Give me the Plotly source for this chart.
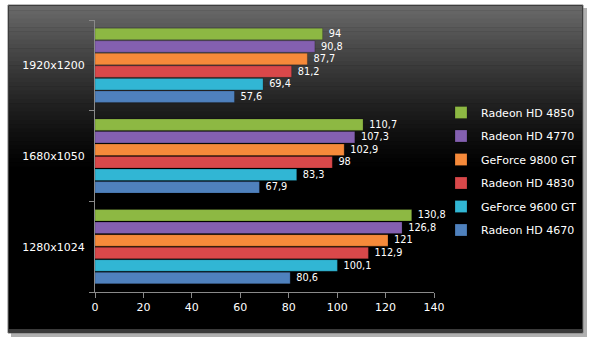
import plotly.graph_objects as go

categories = ["1280x1024", "1680x1050", "1920x1200"]
series_names = ["Radeon HD 4670", "GeForce 9600 GT", "Radeon HD 4830",
                "GeForce 9800 GT", "Radeon HD 4770", "Radeon HD 4850"]
values = {
    "Radeon HD 4670": [80.6, 67.9, 57.6],
    "GeForce 9600 GT": [100.1, 83.3, 69.4],
    "Radeon HD 4830": [112.9, 98, 81.2],
    "GeForce 9800 GT": [121, 102.9, 87.7],
    "Radeon HD 4770": [126.8, 107.3, 90.8],
    "Radeon HD 4850": [130.8, 110.7, 94],
}
colors = {
    "Radeon HD 4670": "#4F81BD",
    "GeForce 9600 GT": "#31B6D4",
    "Radeon HD 4830": "#D9484A",
    "GeForce 9800 GT": "#F68A3A",
    "Radeon HD 4770": "#8460B0",
    "Radeon HD 4850": "#8DB843",
}
x_ticks = [0, 20, 40, 60, 80, 100, 120, 140]

W, H = 593, 343
L, R, T, B = 95, 159, 20, 51
pw, ph = W - L - R, H - T - B

def px(x):
    return (x - L) / pw

def py(y):
    return 1 - (y - T) / ph

def fmt(v):
    return " " + ("%g" % v).replace(".", ",")

fig = go.Figure()
n_series = len(series_names)
for i, name in enumerate(series_names):
    fig.add_trace(go.Bar(
        y=categories, x=values[name], orientation="h", name=name,
        legendgroup=name, legendrank=n_series - i,
        marker=dict(color=colors[name], line=dict(color="rgba(0,0,0,0.35)", width=0.6)),
        text=[fmt(v) for v in values[name]], textposition="outside",
        textfont=dict(color="white", size=11, family="DejaVu Sans"),
        cliponaxis=False,
    ))

shapes = []
# shadow
shapes.append(dict(type="rect", xref="paper", yref="paper", layer="below",
                   x0=px(11), x1=px(587), y0=py(8), y1=py(337),
                   fillcolor="#b0b0b0", line=dict(width=0)))
# panel base
shapes.append(dict(type="rect", xref="paper", yref="paper", layer="below",
                   x0=px(8), x1=px(583), y0=py(5), y1=py(333),
                   fillcolor="#000000", line=dict(color="#7a7a7a", width=1)))
# gradient strips
top, bot = 6, 175
n = 40
for i in range(n):
    y0 = top + (bot - top) * i / n
    y1 = top + (bot - top) * (i + 1) / n
    t = i / (n - 1)
    c = int(105 * (1 - t) ** 1.3)
    shapes.append(dict(type="rect", xref="paper", yref="paper", layer="below",
                       x0=px(9), x1=px(582), y0=py(y0), y1=py(y1 + 0.5),
                       fillcolor="rgb(%d,%d,%d)" % (c, c, c), line=dict(width=0)))
# bottom bevel
shapes.append(dict(type="rect", xref="paper", yref="paper", layer="below",
                   x0=px(9), x1=px(582), y0=py(329), y1=py(333),
                   fillcolor="#3a3a3a", line=dict(width=0)))

fig.update_layout(
    width=W, height=H,
    margin=dict(l=L, r=R, t=T, b=B, autoexpand=False),
    paper_bgcolor="white", plot_bgcolor="rgba(0,0,0,0)",
    barmode="group", bargap=0.17, bargroupgap=0.08,
    shapes=shapes,
    font=dict(family="DejaVu Sans", size=11, color="white"),
    showlegend=True,
    legend=dict(x=px(441), y=py(98), xanchor="left", yanchor="top",
                traceorder="grouped", tracegroupgap=4.5,
                bgcolor="rgba(0,0,0,0)", font=dict(size=11, color="white"),
                itemwidth=30),
    xaxis=dict(range=[0, 140], tickvals=x_ticks, showgrid=False, zeroline=False,
               showline=True, linecolor="#8a8a8a", linewidth=1,
               ticks="outside", ticklen=5, tickcolor="#8a8a8a",
               tickfont=dict(color="white", size=11), fixedrange=True),
    yaxis=dict(type="category", categoryorder="array", categoryarray=categories,
               showgrid=False, showline=True, linecolor="#8a8a8a", linewidth=1,
               ticks="outside", ticklen=5, tickcolor="#8a8a8a", tickson="boundaries",
               tickfont=dict(color="white", size=11), ticksuffix="  "),
)

fig.write_html("out.html")
